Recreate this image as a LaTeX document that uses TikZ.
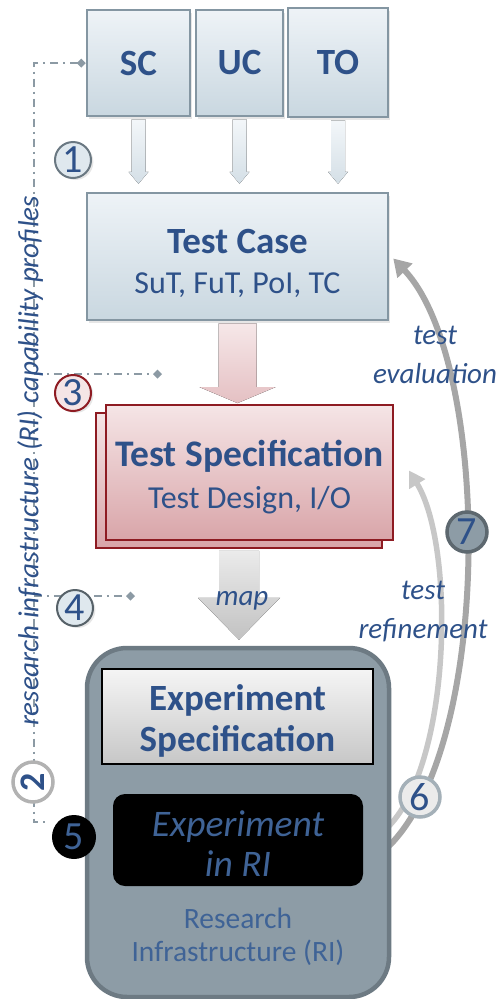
\documentclass[tikz,border=0pt]{standalone}
\usepackage{fontspec}
\setmainfont{Carlito}
\usetikzlibrary{arrows.meta,positioning,calc,shadows}
\definecolor{txtblue}{HTML}{2E5189}
\definecolor{boxtop}{HTML}{EEF3F7}
\definecolor{boxbot}{HTML}{C9D7E0}
\definecolor{boxedge}{HTML}{8496A2}
\definecolor{pinktop}{HTML}{F5E5E6}
\definecolor{pinkbot}{HTML}{D9A5A9}
\definecolor{pinkedge}{HTML}{8E1B22}
\definecolor{rifill}{HTML}{8D9CA6}
\definecolor{riedge}{HTML}{6D7A83}
\definecolor{ritext}{HTML}{3F6396}
\definecolor{profgrey}{HTML}{8C9AA4}

%% flecha de bloque vertical: estilo, desde, hasta, medio cuerpo, media punta, largo punta, hueco
\newcommand{\blockarrow}[7]{%
  \fill[#1] ($(#2.south)+(-#4,2)$) -- ($(#2.south)+(#4,2)$)
    -- ($(#2.south |- #3.north)+(#4,-#6-#7)$) -- ($(#2.south |- #3.north)+(#5,-#6-#7)$)
    -- ($(#2.south |- #3.north)+(0,-#7)$)
    -- ($(#2.south |- #3.north)+(-#5,-#6-#7)$) -- ($(#2.south |- #3.north)+(-#4,-#6-#7)$)
    -- cycle;}

\begin{document}
\begin{tikzpicture}[
  x=1pt, y=-1pt,
  bluebox/.style={draw=boxedge, line width=2.5pt, top color=boxtop, bottom color=boxbot,
                  text=txtblue, align=center, inner sep=0pt,
                  drop shadow={opacity=0.2, shadow xshift=2pt, shadow yshift=-3pt}},
  pinkbox/.style={draw=pinkedge, line width=1.8pt, top color=pinktop, bottom color=pinkbot,
                  text=txtblue, align=center, inner sep=0pt},
  title/.style={font=\fontsize{37}{41}\selectfont\bfseries},
  num/.style={circle, draw, line width=2pt, minimum size=36pt, inner sep=0pt,
              text=txtblue, font=\fontsize{40}{40}\selectfont},
  profline/.style={profgrey, line width=1.8pt, dash pattern={on 8pt off 5pt on 2pt off 5pt}},
  diamondtip/.style={-{Turned Square[width=9pt,length=9pt]}},
  lightarr/.style={top color=boxtop!70!white, bottom color=boxbot!80!white},
  pinkarr/.style={top color=pinktop!90!white, bottom color=pinkbot!70!white},
  maparr/.style={top color=black!8, bottom color=black!24},
  evalarr/.style={-{Triangle[width=20pt,length=17pt]}, black!35, line width=6pt},
  refarr/.style={-{Triangle[width=18pt,length=16pt]}, black!22, line width=5.5pt},
  note/.style={text=txtblue, font=\fontsize{29}{39}\selectfont\itshape, align=center},
]
\useasboundingbox (0,0) rectangle (503,999);

%% Cajas de entrada
\node[bluebox, minimum width=103pt, minimum height=106pt, title] (sc) at (138.5,63) {SC};
\node[bluebox, minimum width=87pt, minimum height=106pt, title] (uc) at (239.5,63) {UC};
\node[bluebox, minimum width=100pt, minimum height=109pt, title] (to) at (338,62.5) {TO};

%% Caso de prueba
\node[bluebox, minimum width=301pt, minimum height=127pt,
      font=\fontsize{32}{40}\selectfont] (tc) at (237.5,256.5)
  {\rule{0pt}{38pt}{\fontsize{37}{40}\selectfont\bfseries Test Case}\\SuT, FuT, PoI, TC};

%% Especificacion de prueba (dos hojas)
\node[pinkbox, minimum width=286pt, minimum height=135pt] (tsb) at (239,480.5) {};
\node[pinkbox, minimum width=287pt, minimum height=135pt,
      font=\fontsize{32}{42}\selectfont] (ts) at (249.5,472.5)
  {\rule{0pt}{35pt}{\fontsize{37.5}{42}\selectfont\bfseries Test Specification}\\Test Design, I/O};

%% Linea de perfiles de capacidad
\coordinate (rbot) at (46,822);
\coordinate (d3) at (162,374);
\coordinate (d4) at (135,596);
\draw[profline, {Turned Square[width=9pt,length=9pt]}-] (sc.west) -- ++(-52,0) coordinate (rtop) |- (rbot);
\draw[profline, diamondtip] (rtop |- d3) -- (d3);
\draw[profline, diamondtip] (rtop |- d4) -- (d4);

%% Flechas de retorno
\coordinate (evs) at (389,846);
\coordinate (rfs) at (389,826);
\coordinate (rft) at ($(ts.east)+(15,-2)$);
\draw[refarr] (rfs) .. controls (452,760) and (455,545) .. (rft);
\draw[evalarr] (evs) .. controls (495,740) and (490,360) .. ($(tc.east)+(4,2)$);

%% Infraestructura de investigacion
\node[draw=riedge, fill=rifill, line width=4.5pt, rounded corners=40pt,
      minimum width=302pt, minimum height=349pt] (ri) at (238,822.5) {};
\node[draw=black, line width=1.6pt, top color=black!4, bottom color=black!22,
      minimum width=271pt, minimum height=95pt, inner sep=0pt, align=center,
      text=txtblue, font=\fontsize{37}{41}\selectfont\bfseries] (es) at (237.5,716.5)
  {\rule{0pt}{35pt}Experiment\\Specification};
\node[fill=black, rounded corners=12pt, minimum width=250pt, minimum height=92pt,
      inner sep=0pt, align=center, text=ritext,
      font=\fontsize{37.5}{40}\selectfont\itshape] (eri) at (238,840) {\rule{0pt}{32pt}Experiment\\in RI};
\node[text=ritext, align=center, font=\fontsize{29.5}{33}\selectfont,
      below=18pt of eri] (ritxt) {Research\\Infrastructure (RI)};

%% Flechas de bloque
\blockarrow{lightarr}{sc}{tc}{7}{10}{12}{8}
\blockarrow{lightarr}{uc}{tc}{7}{10}{12}{8}
\blockarrow{lightarr}{to}{tc}{7}{10}{12}{8}
\blockarrow{pinkarr}{tc}{ts}{19}{38}{16}{1}
\blockarrow{maparr}{tsb}{ri}{20}{41}{42}{6}
\node[note] (map) at (242,601) {map};

%% Etiquetas de las flechas de retorno
\node[note] (evtxt) at (435,355) {test\\evaluation};
\node[note] (rftxt) at (423,612) {test\\refinement};

%% Texto vertical
\node[rotate=90, text=txtblue, font=\fontsize{29}{29}\selectfont\itshape] (prof)
  at (30,461) {research infrastructure (RI) capability profiles};

%% Numeros de pasos
\node[num, fill=boxtop!60!boxbot, draw=boxedge!80!black,
      drop shadow={opacity=0.2, shadow yshift=-2pt}] (n1) at (73,160) {1};
\node[num, fill=white, draw=black!30, line width=3.5pt, minimum size=40pt,
      rotate=90, font=\fontsize{36}{36}\selectfont\bfseries] (n2) at (33,782) {2};
\node[num, fill=pinktop, draw=pinkedge, drop shadow={opacity=0.2, shadow yshift=-2pt}] (n3) at (73,393) {3};
\node[num, fill=boxtop!60!boxbot, draw=riedge!80!black,
      drop shadow={opacity=0.2, shadow yshift=-2pt}] (n4) at (75,608) {4};
\node[num, fill=black, draw=black, minimum size=42pt, text=ritext] (n5) at (74,837) {5};
\node[num, fill=black!8, draw=rifill!80!white, line width=3.5pt, minimum size=40pt] (n6) at (420,797) {6};
\node[num, fill=rifill, draw=riedge!85!black, line width=3.5pt, minimum size=40pt] (n7) at (467,532) {7};

\end{tikzpicture}
\end{document}
